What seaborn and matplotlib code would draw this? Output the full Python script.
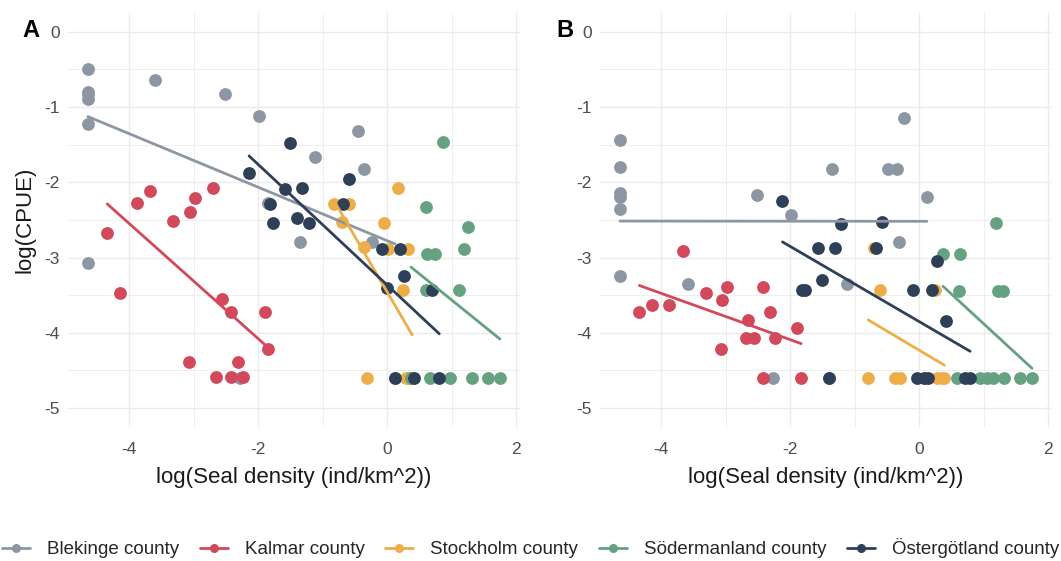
import numpy as np
import pandas as pd
import matplotlib
matplotlib.use("Agg")
import matplotlib.pyplot as plt
from matplotlib.lines import Line2D
from matplotlib.ticker import MultipleLocator
import seaborn as sns

sns.set_theme(style="white")
plt.rcParams['font.family'] = ['Liberation Sans', 'DejaVu Sans']
plt.rcParams['axes.unicode_minus'] = False

counties = ["Blekinge county", "Kalmar county", "Stockholm county",
            "Södermanland county", "Östergötland county"]
colors = ["#8d96a3", "#d1495b", "#edae49", "#66a182", "#2e4057"]

# ---- Panel A: (log seal density, log CPUE) ----
blek_A_x = [-4.64, -4.64, -4.64, -4.64, -4.64, -4.64, -3.60, -2.51, -1.98, -1.85,
            -1.35, -1.12, -0.45, -0.36, -0.23, -2.28, 0.12]
blek_A_y = [-0.49, -0.80, -0.83, -0.89, -1.23, -3.07, -0.64, -0.83, -1.12, -2.27,
            -2.79, -1.66, -1.32, -1.82, -2.79, -4.60, -4.60]
kalm_A_x = [-4.34, -4.14, -3.88, -3.67, -3.32, -3.05, -2.98, -2.70, -2.56, -2.42,
            -1.89, -1.84, -3.07, -2.31, -2.65, -2.42, -2.23]
kalm_A_y = [-2.67, -3.47, -2.27, -2.11, -2.51, -2.40, -2.21, -2.08, -3.55, -3.72,
            -3.72, -4.22, -4.39, -4.39, -4.59, -4.59, -4.59]
stoc_A_x = [-0.82, -0.59, -0.70, 0.17, -0.05, -0.36, 0.02, 0.33, 0.25, -0.31, 0.30,
            0.38, 0.33, 0.36, 0.39]
stoc_A_y = [-2.29, -2.29, -2.53, -2.08, -2.54, -2.86, -2.88, -2.88, -3.43, -4.60, -4.60,
            -4.60, -4.60, -4.60, -4.60]
sode_A_x = [0.87, 0.60, 1.26, 1.19, 0.62, 0.74, 0.60, 1.12, 0.37, 0.67, 0.98, 1.32, 1.57, 1.75]
sode_A_y = [-1.47, -2.33, -2.60, -2.88, -2.95, -2.95, -3.43, -3.43, -4.60, -4.60, -4.60,
            -4.60, -4.60, -4.60]
oste_A_x = [-2.14, -1.50, -0.59, -1.58, -1.32, -1.81, -1.77, -1.40, -1.21, -0.68,
            -0.08, 0.20, 0.26, 0.00, 0.69, 0.12, 0.41, 0.81]
oste_A_y = [-1.88, -1.48, -1.96, -2.09, -2.07, -2.29, -2.54, -2.48, -2.54, -2.29,
            -2.88, -2.88, -3.25, -3.41, -3.43, -4.60, -4.60, -4.60]

# ---- Panel B ----
blek_B_x = [-4.64, -4.64, -4.64, -4.64, -4.64, -4.64, -3.58, -2.51, -2.27, -1.98,
            -1.35, -1.12, -0.48, -0.34, -0.31, -0.23, 0.12, -1.40]
blek_B_y = [-1.44, -1.80, -2.14, -2.20, -2.36, -3.25, -3.35, -2.17, -4.60, -2.43,
            -1.82, -3.35, -1.82, -1.82, -2.80, -1.15, -2.20, -4.60]
kalm_B_x = [-4.34, -4.14, -3.88, -3.67, -3.30, -3.06, -2.98, -2.42, -2.31, -2.65,
            -2.68, -2.56, -2.23, -1.89, -3.07, -2.42, -1.83]
kalm_B_y = [-3.72, -3.63, -3.63, -2.91, -3.47, -3.56, -3.39, -3.39, -3.72, -3.83,
            -4.07, -4.07, -4.07, -3.93, -4.21, -4.60, -4.60]
stoc_B_x = [-0.70, -0.60, 0.25, -0.79, -0.37, -0.29, 0.28, 0.36, 0.39]
stoc_B_y = [-2.87, -3.43, -3.43, -4.60, -4.60, -4.60, -4.60, -4.60, -4.60]
sode_B_x = [1.19, 0.37, 0.63, 0.62, 1.22, 1.30, 0.59, 0.95, 1.05, 1.15, 1.32, 1.57, 1.75]
sode_B_y = [-2.54, -2.95, -2.95, -3.45, -3.45, -3.45, -4.60, -4.60, -4.60, -4.60,
            -4.60, -4.60, -4.60]
oste_B_x = [-2.12, -1.21, -0.58, -1.57, -1.30, -0.67, 0.28, -1.50, -1.81, -1.77,
            -0.09, 0.20, 0.42, -1.40, -0.03, 0.07, 0.14, 0.71, 0.79]
oste_B_y = [-2.25, -2.55, -2.53, -2.87, -2.87, -2.87, -3.05, -3.30, -3.43, -3.43,
            -3.43, -3.43, -3.84, -4.60, -4.60, -4.60, -4.60, -4.60, -4.60]

x_ticks = [-4, -2, 0, 2]
y_ticks = [-5, -4, -3, -2, -1, 0]
x_label = "log(Seal density (ind/km^2))"
y_label = "log(CPUE)"


def frame(xs, ys):
    rows = []
    for c, xx, yy in zip(counties, xs, ys):
        for a, b in zip(xx, yy):
            rows.append((c, a, b))
    return pd.DataFrame(rows, columns=["county", "x", "y"])


dfA = frame([blek_A_x, kalm_A_x, stoc_A_x, sode_A_x, oste_A_x],
            [blek_A_y, kalm_A_y, stoc_A_y, sode_A_y, oste_A_y])
dfB = frame([blek_B_x, kalm_B_x, stoc_B_x, sode_B_x, oste_B_x],
            [blek_B_y, kalm_B_y, stoc_B_y, sode_B_y, oste_B_y])

fig = plt.figure(figsize=(10.61, 5.61), dpi=100)
axA = fig.add_axes([0.064, 0.239, 0.426, 0.738])
axB = fig.add_axes([0.5655, 0.239, 0.426, 0.738])

tick_col = "#4d4d4d"
for ax, df, lab in [(axA, dfA, "A"), (axB, dfB, "B")]:
    for c, col in zip(counties, colors):
        sub = df[df.county == c]
        sns.scatterplot(data=sub, x="x", y="y", color=col, s=85, linewidth=0,
                        ax=ax, zorder=3)
    for c, col in zip(counties, colors):
        sub = df[df.county == c]
        sns.regplot(data=sub, x="x", y="y", ci=None, scatter=False, truncate=True,
                    color=col, line_kws=dict(lw=2.0, zorder=4), ax=ax)
    ax.set_xlim(-4.95, 2.06)
    ax.set_ylim(-5.25, 0.25)
    ax.set_xticks(x_ticks)
    ax.set_yticks(y_ticks)
    ax.xaxis.set_minor_locator(MultipleLocator(1))
    ax.yaxis.set_minor_locator(MultipleLocator(0.5))
    ax.grid(which="major", color="#ebebeb", lw=1.0)
    ax.grid(which="minor", color="#ebebeb", lw=0.6)
    ax.set_axisbelow(True)
    for s in ax.spines.values():
        s.set_visible(False)
    ax.tick_params(axis="both", which="both", length=0, labelsize=12.5,
                   labelcolor=tick_col)
    ax.tick_params(axis="x", pad=11)
    ax.tick_params(axis="y", pad=6)
    ax.set_xlabel(x_label, fontsize=16, color="#1a1a1a", labelpad=7)
    ax.set_ylabel("")

axA.set_ylabel(y_label, fontsize=16, color="#1a1a1a", labelpad=6)

fig.text(0.021, 0.946, "A", fontsize=17, fontweight="bold", color="black", va="center")
fig.text(0.524, 0.946, "B", fontsize=17, fontweight="bold", color="black", va="center")

handles = [Line2D([0], [0], color=col, lw=2, marker="o", markersize=6.5,
                  markeredgewidth=0) for col in colors]
fig.legend(handles, counties, loc="center", bbox_to_anchor=(0.5, 0.023), ncol=5,
           frameon=False, fontsize=13.5, handlelength=1.5, handletextpad=0.9,
           columnspacing=1.1)

fig.savefig("out.png", dpi=100)
